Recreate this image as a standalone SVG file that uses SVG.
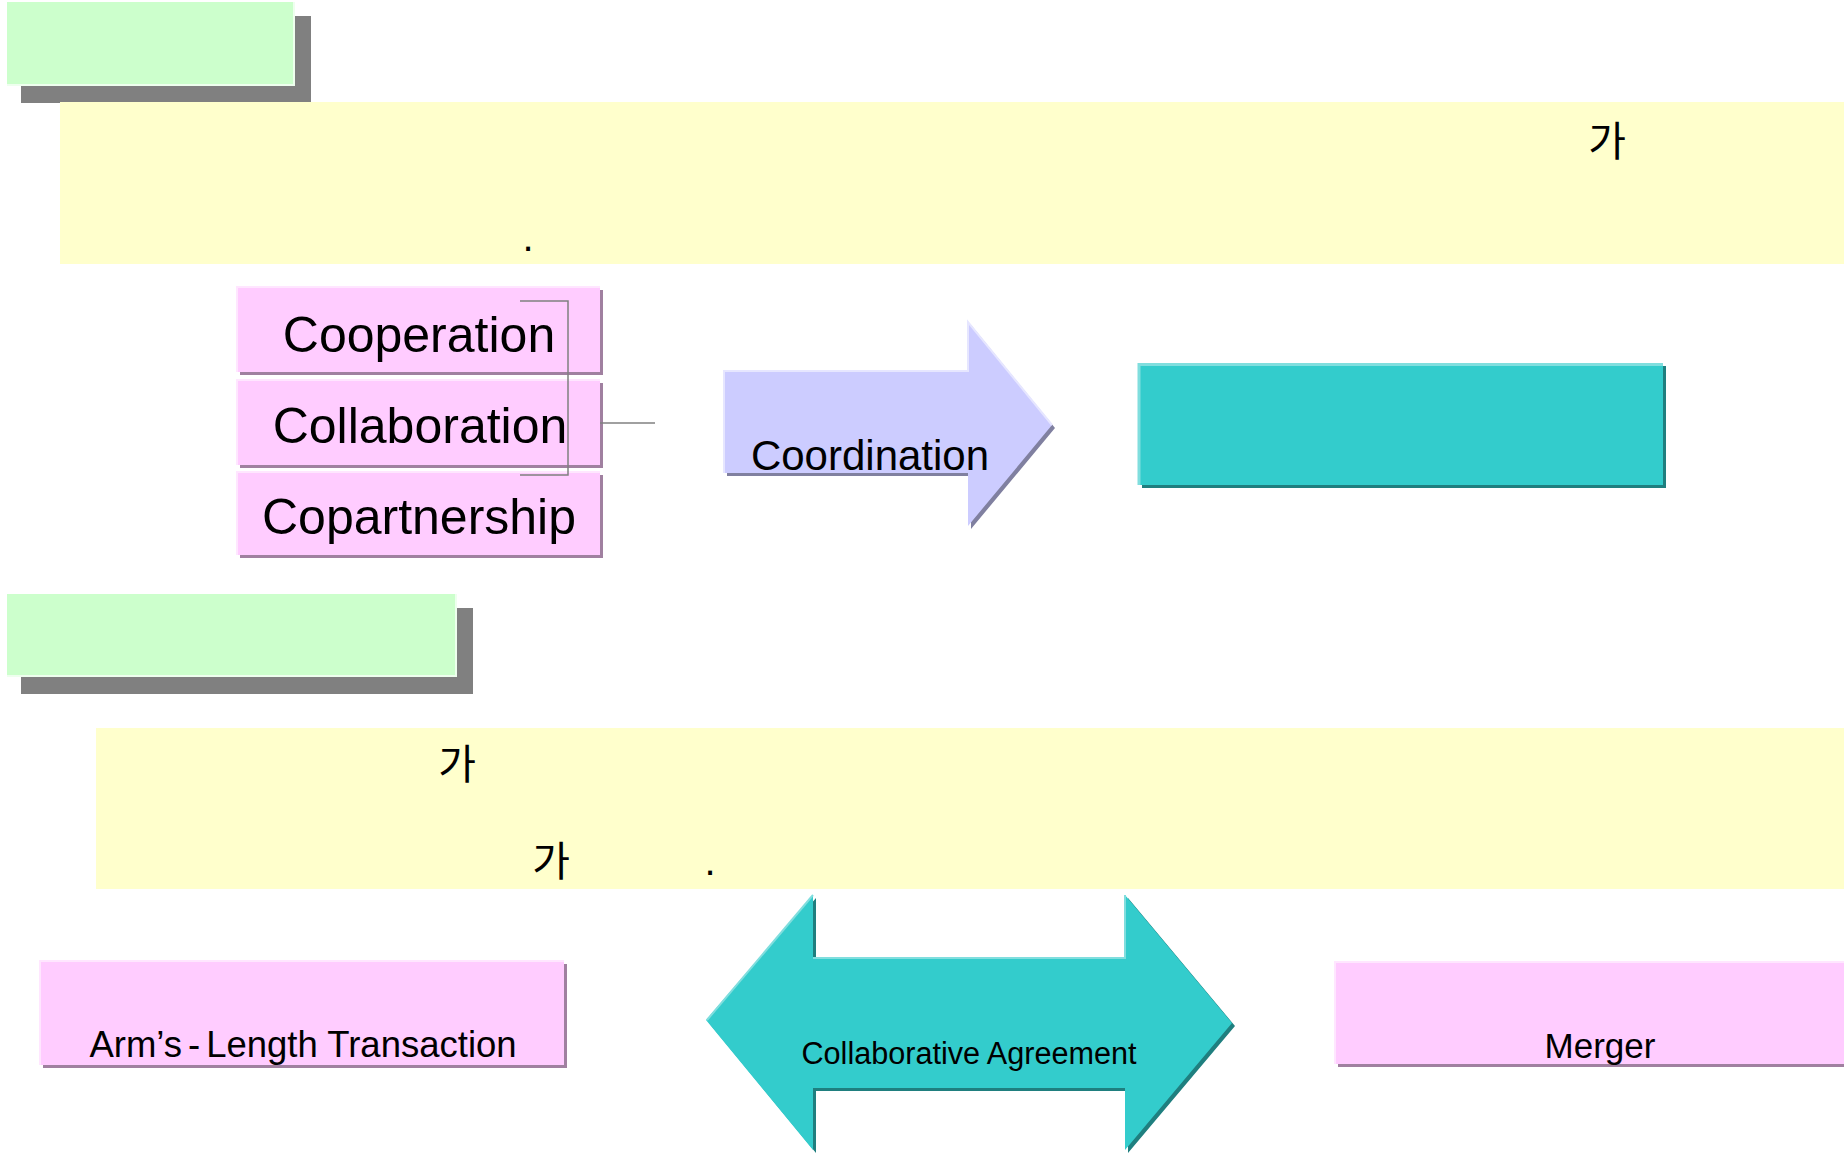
<svg xmlns="http://www.w3.org/2000/svg" width="1844" height="1155" viewBox="0 0 1844 1155">
  <style>
    .lat { font-family: "Liberation Sans", Arial, sans-serif; fill: #000; }
    .kr { font-family: "Noto Sans CJK KR", "Noto Sans", sans-serif; fill: #000; font-size: 41px; }
    .green { fill: #CCFFCC; }
    .greyShadow { fill: #808080; }
    .yellow { fill: #FFFFCC; }
    .pink { fill: #FFCCFF; }
    .pinkShadow { fill: #A080A0; }
    .pinkLight { stroke: #FFE6FF; stroke-width: 2; fill: none; }
    .lav { fill: #CCCCFF; }
    .lavShadow { fill: #8080A0; }
    .teal { fill: #33CCCC; }
    .tealShadow { fill: #1F7F7F; }
    .tealLight { stroke: #80DEDE; stroke-width: 3; fill: none; }
    .conn { stroke: #808080; stroke-width: 1.5; fill: none; }
    .big { font-size: 50px; }
  </style>

  <!-- upper section header -->
  <g id="title1">
    <rect class="greyShadow" x="21" y="16" width="290" height="87"/>
    <rect class="green" x="7" y="2" width="287" height="83"/>
    <polyline points="294,2 294,85 7,85" stroke="#EEFFEE" stroke-width="2" fill="none"/>
  </g>

  <!-- upper description band -->
  <g id="desc1">
    <rect class="yellow" x="60" y="102" width="1784" height="162"/>
    <text class="kr" x="1607" y="156" text-anchor="middle">가</text>
    <text class="lat" x="528" y="251" font-size="40" text-anchor="middle">.</text>
  </g>

  <!-- three stacked terms -->
  <g id="cooperation">
    <rect class="pinkShadow" x="240" y="290" width="363" height="85"/>
    <rect class="pink" x="237" y="287" width="363" height="85"/>
    <polyline class="pinkLight" points="237,372 237,287 600,287"/>
    <text class="lat big" x="419" y="352" text-anchor="middle">Cooperation</text>
  </g>
  <g id="collaboration">
    <rect class="pinkShadow" x="240" y="383" width="363" height="85"/>
    <rect class="pink" x="237" y="380" width="363" height="85"/>
    <polyline class="pinkLight" points="237,465 237,380 600,380"/>
    <text class="lat big" x="420" y="443" text-anchor="middle">Collaboration</text>
  </g>
  <g id="copartnership">
    <rect class="pinkShadow" x="240" y="475" width="363" height="83"/>
    <rect class="pink" x="237" y="472" width="363" height="83"/>
    <polyline class="pinkLight" points="237,555 237,472 600,472"/>
    <text class="lat big" x="419" y="534" text-anchor="middle">Copartnership</text>
  </g>

  <!-- bracket joining the terms -->
  <g id="connectors">
    <polyline class="conn" points="520,301 568,301 568,475 520,475"/>
    <line class="conn" x1="600" y1="423" x2="655" y2="423"/>
  </g>

  <!-- coordination arrow -->
  <g id="coordination">
    <polygon class="lavShadow" points="727,374 971,374 971,325 1055,428 971,529 971,476 727,476"/>
    <polygon class="lav" points="724,371 968,371 968,322 1052,425 968,526 968,473 724,473"/>
    <polyline points="724,473 724,371 968,371 968,322 1052,425" stroke="#E6E6FF" stroke-width="2" fill="none"/>
    <text class="lat" x="870" y="470" font-size="42" text-anchor="middle">Coordination</text>
  </g>

  <!-- result box -->
  <g id="result">
    <rect class="tealShadow" x="1142" y="366" width="524" height="122"/>
    <rect class="teal" x="1139" y="363" width="524" height="122"/>
    <polyline class="tealLight" points="1139,485 1139,364.5 1663,364.5"/>
  </g>

  <!-- lower section header -->
  <g id="title2">
    <rect class="greyShadow" x="21" y="608" width="452" height="86"/>
    <rect class="green" x="7" y="594" width="449" height="82"/>
    <polyline points="456,594 456,676 7,676" stroke="#EEFFEE" stroke-width="2" fill="none"/>
  </g>

  <!-- lower description band -->
  <g id="desc2">
    <rect class="yellow" x="96" y="728" width="1748" height="161"/>
    <text class="kr" x="457" y="779" text-anchor="middle">가</text>
    <text class="kr" x="551" y="876" text-anchor="middle">가</text>
    <text class="lat" x="710" y="875" font-size="40" text-anchor="middle">.</text>
  </g>

  <!-- left end of the spectrum -->
  <g id="arms-length">
    <rect class="pinkShadow" x="43" y="964" width="524" height="104"/>
    <rect class="pink" x="40" y="961" width="524" height="104"/>
    <polyline class="pinkLight" points="40,1065 40,961 564,961"/>
    <text class="lat" x="303" y="1057" font-size="36.5" text-anchor="middle">Arm’s<tspan dx="6">-</tspan><tspan dx="6">Length Transaction</tspan></text>
  </g>

  <!-- two-way arrow in the middle -->
  <g id="agreement">
    <polygon class="tealShadow" points="709,1023 816,898 816,961 1128,961 1128,898 1235,1026 1128,1153 1128,1091 816,1091 816,1153"/>
    <polygon class="teal" points="706,1020 813,895 813,958 1125,958 1125,895 1232,1023 1125,1150 1125,1088 813,1088 813,1150"/>
    <polyline points="707,1020 813,895" stroke="#80DEDE" stroke-width="2" fill="none"/>
    <polyline points="813,958 1125,958 1125,895" stroke="#80DEDE" stroke-width="2" fill="none"/>
    <text class="lat" x="969" y="1064" font-size="30.6" text-anchor="middle">Collaborative Agreement</text>
  </g>

  <!-- right end of the spectrum -->
  <g id="merger">
    <rect class="pinkShadow" x="1338" y="965" width="506" height="102"/>
    <rect class="pink" x="1335" y="962" width="509" height="102"/>
    <polyline class="pinkLight" points="1335,1064 1335,962 1844,962"/>
    <text class="lat" x="1600" y="1058" font-size="35" text-anchor="middle">Merger</text>
  </g>
</svg>
